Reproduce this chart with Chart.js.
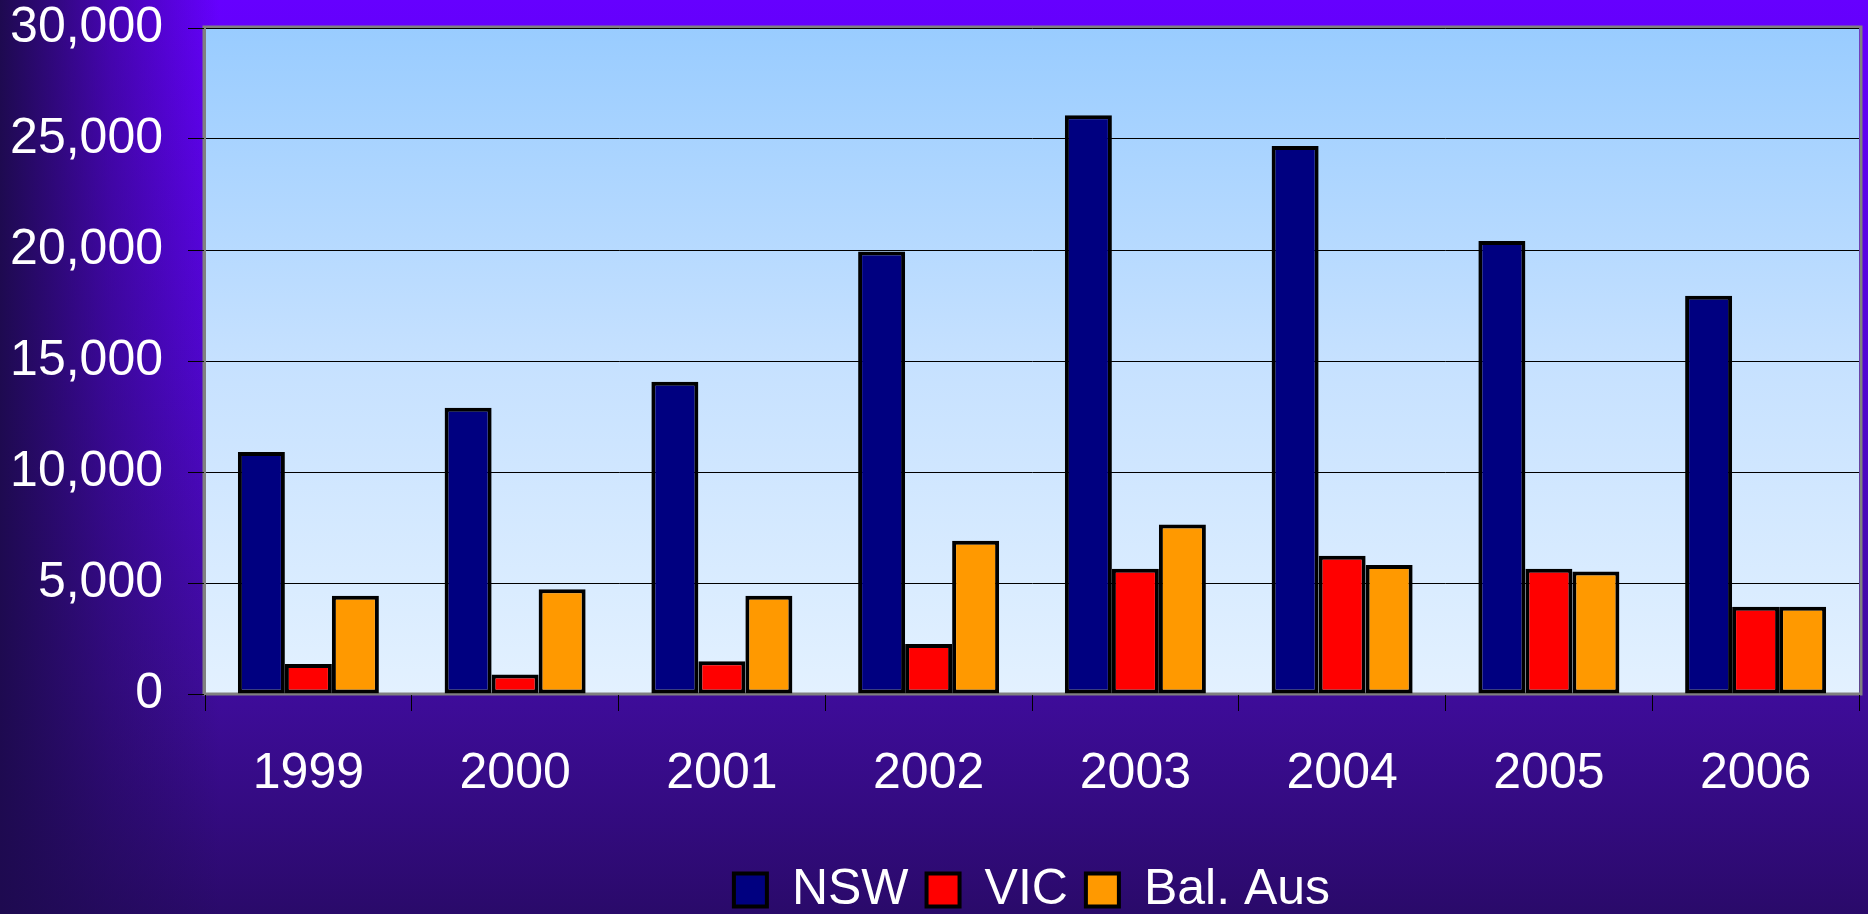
<!DOCTYPE html>
<html>
<head>
<meta charset="utf-8">
<script src="https://cdn.jsdelivr.net/npm/chart.js@4"></script>
<style>
  html, body { margin: 0; padding: 0; background: #2a0a6a; }
  canvas { display: block; }
</style>
</head>
<body>
<canvas id="bars" width="1868" height="914"></canvas>
<script>
const years = ['1999', '2000', '2001', '2002', '2003', '2004', '2005', '2006'];
const nsw = [10900, 12890, 14070, 19930, 26070, 24690, 20400, 17940];
const vic = [1350, 880, 1470, 2250, 5640, 6230, 5640, 3930];
const balAus = [4430, 4720, 4430, 6900, 7630, 5810, 5520, 3930];
const yTicks = [0, 5000, 10000, 15000, 20000, 25000, 30000];

const font = "'Liberation Sans', Arial, sans-serif";

// slide background + light blue plot area
const backdrop = {
  id: 'backdrop',
  beforeDraw(chart) {
    const { ctx, width, height, chartArea: a } = chart;
    ctx.save();
    let g = ctx.createLinearGradient(0, 0, 0, height);
    g.addColorStop(0, '#6600ff');
    g.addColorStop(0.4, '#5206d4');
    g.addColorStop(0.75, '#3f0c9c');
    g.addColorStop(1, '#2a0a6a');
    ctx.fillStyle = g;
    ctx.fillRect(0, 0, width, height);
    let h = ctx.createLinearGradient(0, 0, 220, 0);
    h.addColorStop(0, 'rgba(30,10,80,1)');
    h.addColorStop(0.5, 'rgba(30,10,80,0.45)');
    h.addColorStop(1, 'rgba(30,10,80,0)');
    ctx.fillStyle = h;
    ctx.fillRect(0, 0, 220, height);

    let p = ctx.createLinearGradient(0, a.top, 0, a.bottom);
    p.addColorStop(0, '#99ccff');
    p.addColorStop(0.5, '#c6e1ff');
    p.addColorStop(1, '#e3f1ff');
    ctx.fillStyle = p;
    ctx.fillRect(a.left, a.top, a.right - a.left, a.bottom - a.top);
    ctx.strokeStyle = '#808080';
    ctx.lineWidth = 3;
    ctx.strokeRect(a.left - 1, a.top - 1, a.right - a.left + 3, a.bottom - a.top + 1);
    ctx.restore();
  }
};

new Chart(document.getElementById('bars'), {
  type: 'bar',
  data: {
    labels: years,
    datasets: [
      { label: 'NSW', data: nsw, backgroundColor: '#000080', borderColor: '#000000', borderWidth: 4, borderSkipped: false },
      { label: 'VIC', data: vic, backgroundColor: '#ff0000', borderColor: '#000000', borderWidth: 4, borderSkipped: false },
      { label: 'Bal. Aus', data: balAus, backgroundColor: '#ff9900', borderColor: '#000000', borderWidth: 4, borderSkipped: false }
    ]
  },
  options: {
    responsive: false,
    animation: false,
    devicePixelRatio: 1,
    categoryPercentage: 0.682,
    barPercentage: 1.0,
    layout: { padding: { top: 0, right: 9, left: 0, bottom: -11 } },
    plugins: {
      tooltip: { enabled: false },
      legend: {
        position: 'bottom',
        fullSize: false,
        labels: {
          color: '#ffffff',
          font: { family: font, size: 50 },
          boxWidth: 33,
          boxHeight: 33,
          padding: 18
        }
      }
    },
    scales: {
      x: {
        afterFit(scale) { scale.height = 153; },
        grid: {
          offset: true,
          drawOnChartArea: false,
          color: '#000000',
          tickLength: 17
        },
        border: { color: '#808080', width: 2 },
        ticks: {
          color: '#ffffff',
          padding: 33,
          font: { family: font, size: 50 }
        }
      },
      y: {
        min: 0,
        max: 30000,
        afterFit(scale) {
          scale.width = 205;
          scale.paddingTop = 28;
          scale.paddingBottom = 0;
        },
        afterBuildTicks(scale) { scale.ticks = yTicks.map(v => ({ value: v })); },
        grid: {
          color: '#000000',
          lineWidth: 1,
          tickLength: 17
        },
        border: { color: '#808080', width: 2 },
        ticks: {
          color: '#ffffff',
          padding: 25,
          font: { family: font, size: 50, lineHeight: 1.1 },
          callback: v => v.toLocaleString('en-US')
        }
      }
    }
  },
  plugins: [backdrop]
});
</script>
</body>
</html>
